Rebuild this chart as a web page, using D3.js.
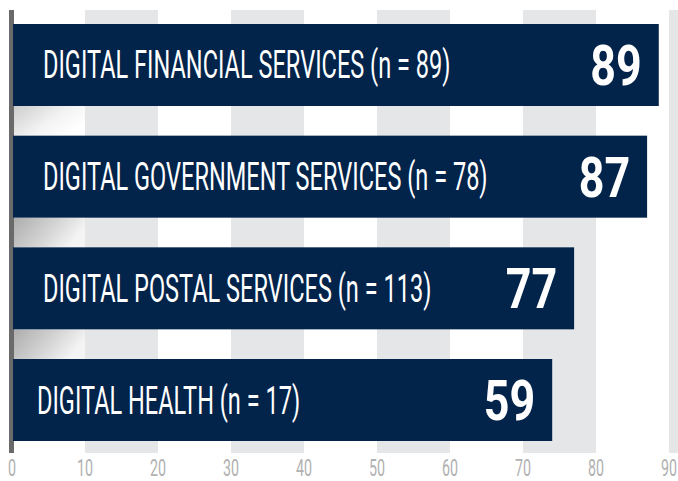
<!DOCTYPE html>
<html>
<head>
<meta charset="utf-8">
<script src="https://cdn.jsdelivr.net/npm/d3@7"></script>
<style>
    html, body { margin: 0; padding: 0; background: #fff; }
    svg { display: block; }
    text { font-family: Roboto, "Liberation Sans", sans-serif; }
</style>
</head>
<body>
<svg id="chart" width="678" height="481"></svg>
<script>
// data
var categories = ["DIGITAL FINANCIAL SERVICES (n = 89)", "DIGITAL GOVERNMENT SERVICES (n = 78)",
    "DIGITAL POSTAL SERVICES (n = 113)", "DIGITAL HEALTH (n = 17)"];
var scores = [89, 87, 77, 59];          // printed on each bar
var barLengths = [88.6, 87, 77, 74];    // as drawn (last bar is longer than its label)
var tickValues = [0, 10, 20, 30, 40, 50, 60, 70, 80, 90];
var bandStarts = [10, 30, 50, 70, 90];

var width = 678, height = 481;
var barColor = "#02234a";
var plotTop = 10, plotBottom = 453;

var svg = d3.select("#chart");

var x = d3.scaleLinear().domain([0, 90]).range([12, 669]);
var y = d3.scaleBand().domain(categories).range([24, 441]).paddingInner(0.2657).paddingOuter(0);

var defs = svg.append("defs");
var grad = defs.append("linearGradient")
    .attr("id", "shade")
    .attr("x1", 0).attr("y1", 0).attr("x2", 1).attr("y2", 0.35);
grad.append("stop").attr("offset", "0%").attr("stop-color", "#adadad");
grad.append("stop").attr("offset", "55%").attr("stop-color", "#d2d2d2");
grad.append("stop").attr("offset", "100%").attr("stop-color", "#f4f4f4");

var gradLight = defs.append("linearGradient")
    .attr("id", "shadeLight")
    .attr("x1", 0).attr("y1", 0).attr("x2", 1).attr("y2", 0.6);
gradLight.append("stop").attr("offset", "0%").attr("stop-color", "#cdcdcd");
gradLight.append("stop").attr("offset", "60%").attr("stop-color", "#f3f3f3");
gradLight.append("stop").attr("offset", "100%").attr("stop-color", "#ffffff");

// alternating grey columns
svg.append("g").selectAll("rect")
    .data(bandStarts)
    .join("rect")
    .attr("x", function (d) { return x(d); })
    .attr("y", plotTop)
    .attr("width", function (d) { return Math.min(x(d + 10), width) - x(d); })
    .attr("height", plotBottom - plotTop)
    .attr("fill", "#e5e6e8");

// shading in the gaps next to the axis
var gaps = categories.slice(1);
svg.append("g").selectAll("rect")
    .data(gaps)
    .join("rect")
    .attr("x", x(0) + 2)
    .attr("y", function (d, i) { return y(categories[i]) + y.bandwidth(); })
    .attr("width", x(10) - x(0) - 2)
    .attr("height", function (d, i) { return y(d) - y(categories[i]) - y.bandwidth(); })
    .attr("fill", function (d, i) { return i === 0 ? "url(#shadeLight)" : "url(#shade)"; });

// axis line
svg.append("rect")
    .attr("x", x(0) - 3)
    .attr("y", plotTop)
    .attr("width", 5)
    .attr("height", plotBottom - plotTop)
    .attr("fill", "#6a6a6a");

// bars
var bars = svg.append("g").selectAll("g")
    .data(categories)
    .join("g");

bars.append("rect")
    .attr("x", x(0) + 1)
    .attr("y", function (d) { return y(d); })
    .attr("width", function (d, i) { return x(barLengths[i]) - x(0) - 1; })
    .attr("height", y.bandwidth())
    .attr("fill", barColor);

var labelScale = 0.62;
bars.append("text")
    .attr("transform", function (d, i) {
        var lx = i === 3 ? x(0) + 25 : x(0) + 31;
        return "translate(" + lx + "," + (y(d) + y.bandwidth() / 2 + 13.5) + ") scale(" + labelScale + ",1)";
    })
    .attr("fill", "#fff")
    .attr("font-size", 38)
    .attr("font-weight", 400)
    .text(function (d) { return d; });

bars.append("text")
    .attr("transform", function (d, i) {
        return "translate(" + (x(barLengths[i]) - 17) + "," + (y(d) + y.bandwidth() / 2 + 20) + ") scale(0.8,1)";
    })
    .attr("text-anchor", "end")
    .attr("fill", "#fff")
    .attr("font-size", 56)
    .attr("font-weight", 700)
    .text(function (d, i) { return scores[i]; });

// tick labels
var axis = d3.axisBottom(x).tickValues(tickValues).tickSize(0).tickPadding(0);
var gx = svg.append("g")
    .attr("transform", "translate(0," + 476 + ")")
    .call(axis);
gx.select(".domain").remove();
gx.selectAll("text")
    .attr("dy", 0)
    .attr("y", 0)
    .attr("transform", "scale(0.62,1)")
    .attr("font-size", 23)
    .attr("font-family", "Roboto, sans-serif")
    .attr("fill", "#b1b1b1");
gx.selectAll(".tick").each(function (d) {
    d3.select(this).attr("transform", "translate(" + x(d) + ",0)");
});
</script>
</body>
</html>
